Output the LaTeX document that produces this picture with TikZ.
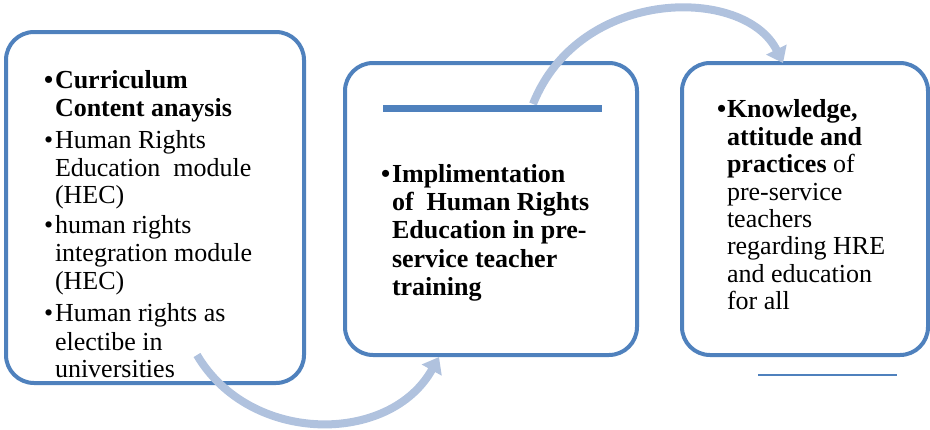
\documentclass[tikz,border=0pt]{standalone}
\usepackage{fontspec}
\setmainfont{Liberation Serif}
\usetikzlibrary{arrows.meta}
\definecolor{boxblue}{RGB}{79,129,189}
\definecolor{arrblue}{RGB}{176,194,222}
\begin{document}
\begin{tikzpicture}[x=1pt,y=-1pt,
  box/.style={draw=boxblue,line width=4pt,rounded corners=28pt,inner sep=0pt,outer sep=0pt},
  ln/.style={anchor=base west,inner sep=0pt,outer sep=0pt,font=\fontsize{26}{28}\selectfont},
  lnb/.style={ln,font=\fontsize{26}{28}\selectfont\bfseries},
  arr/.style={draw=arrblue,line width=8pt,-{Triangle[length=15pt,width=22pt]}},
  bar/.style={draw=boxblue,line width=7pt},
  thin/.style={draw=boxblue,line width=2pt}]
\useasboundingbox (0,0) rectangle (930,429);
% boxes
\node[box,minimum width=298pt,minimum height=351pt] (b1) at (155,207.5) {};
\node[box,minimum width=292pt,minimum height=292pt] (b2) at (491,209) {};
\node[box,minimum width=246pt,minimum height=292pt] (b3) at (805,209) {};
% box 1 text
\node[lnb] (t1a) at (44,88) {\textbullet};
\node[lnb] (t1b) at (55,88) {Curriculum};
\node[lnb] (t1c) at (55,116.5) {Content anaysis};
\node[ln] (t1d) at (44,148) {\textbullet};
\node[ln] (t1e) at (55,148) {Human Rights};
\node[ln] (t1f) at (55,176.5) {Education\ \ module};
\node[ln] (t1g) at (55,203) {(HEC)};
\node[ln] (t1h) at (44,233) {\textbullet};
\node[ln] (t1i) at (55,233) {human rights};
\node[ln] (t1j) at (55,261.5) {integration module};
\node[ln] (t1k) at (55,289) {(HEC)};
\node[ln] (t1l) at (44,321.5) {\textbullet};
\node[ln] (t1m) at (55,321.5) {Human rights as};
\node[ln] (t1n) at (55,350) {electibe in};
\node[ln] (t1o) at (55,377) {universities};
% box 2 text
\node[lnb] (t2a) at (381,182) {\textbullet};
\node[lnb] (t2b) at (392,182) {Implimentation};
\node[lnb] (t2c) at (392,210) {of\ \ Human Rights};
\node[lnb] (t2d) at (392,238.5) {Education in pre-};
\node[lnb] (t2e) at (392,267) {service teacher};
\node[lnb] (t2f) at (392,295) {training};
% box 3 text
\node[lnb] (t3a) at (717,117.5) {\textbullet};
\node[lnb] (t3b) at (727,117.5) {Knowledge,};
\node[lnb] (t3c) at (727,145) {attitude and};
\node[ln] (t3d) at (727,172) {\textbf{practices} of};
\node[ln] (t3e) at (727,200) {pre-service};
\node[ln] (t3f) at (727,227) {teachers};
\node[ln] (t3g) at (727,254.5) {regarding HRE};
\node[ln] (t3h) at (727,282) {and education};
\node[ln] (t3i) at (727,309.5) {for all};
% arrows
\coordinate (a1s) at (197,355);
\coordinate (a1e) at (439,357);
\coordinate (a2s) at (533,104);
\coordinate (a2e) at (783,63);
\draw[arr] (a1s) .. controls (250,445) and (390,445) .. (a1e);
\draw[arr] (a2s) .. controls (580,-14) and (745,-14) .. (a2e);
% decorative lines
\coordinate (r1) at (383,108);
\coordinate (r2) at (602,108);
\draw[bar] (r1) -- (r2);
\coordinate (u1) at (758,375);
\coordinate (u2) at (897,375);
\draw[thin] (u1) -- (u2);
\end{tikzpicture}
\end{document}
